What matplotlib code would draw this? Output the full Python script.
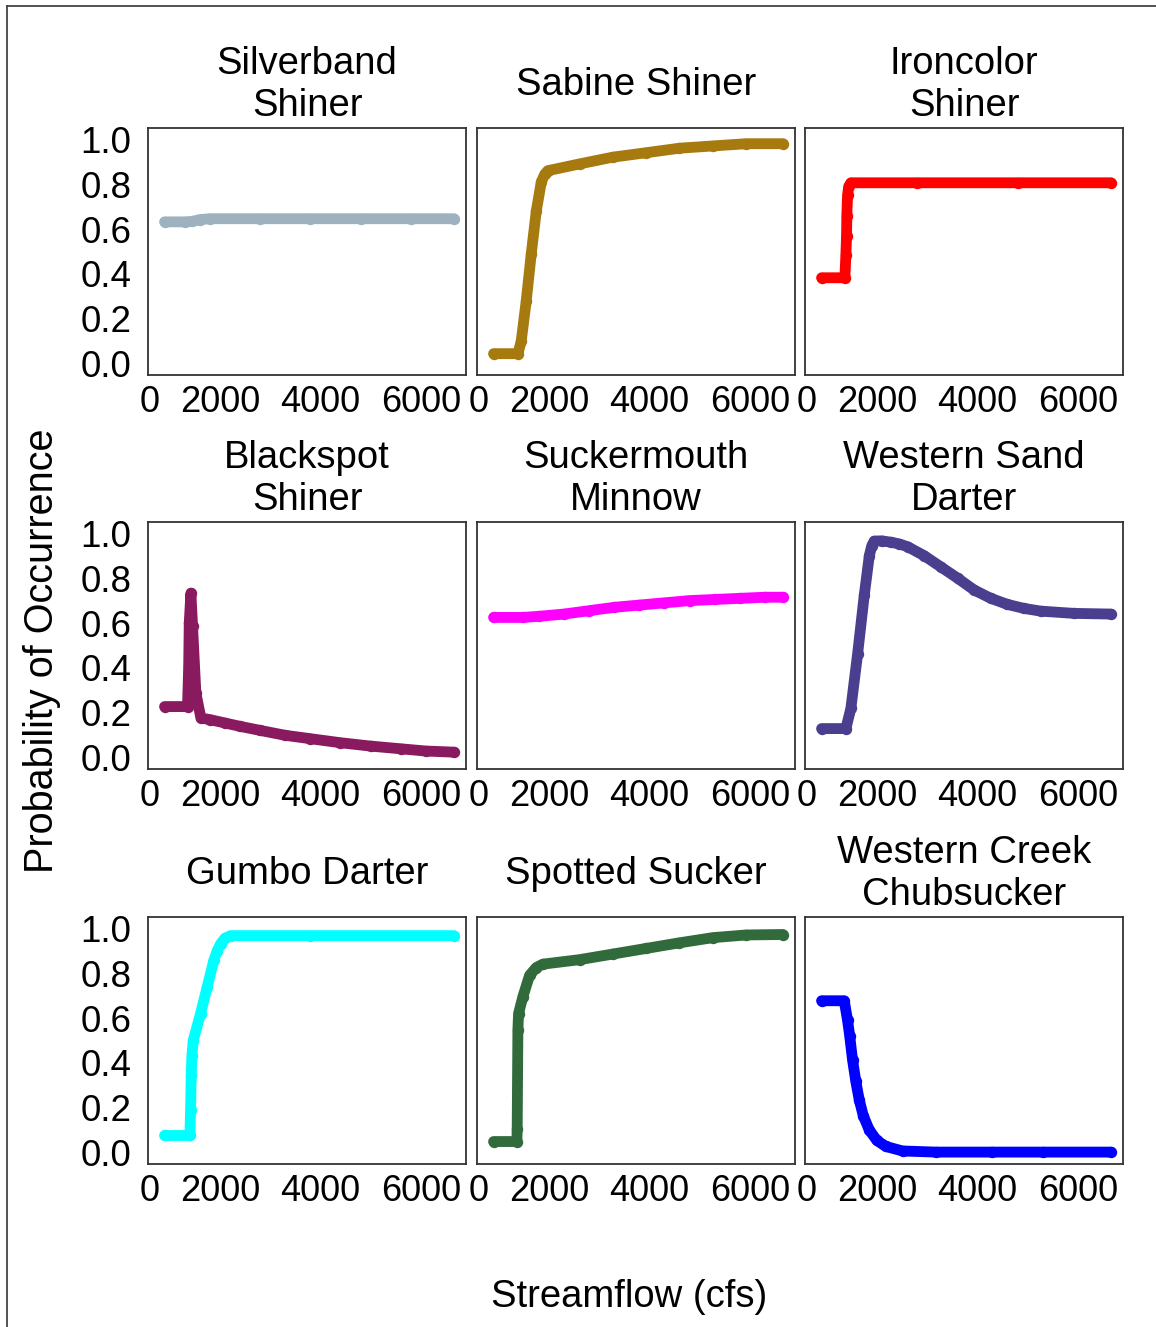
import matplotlib
matplotlib.use('Agg')
import matplotlib.pyplot as plt
from matplotlib.lines import Line2D

plt.rcParams['font.family'] = ['Liberation Sans', 'DejaVu Sans']

W, H = 1156, 1327

titles = ["Silverband\nShiner", "Sabine Shiner", "Ironcolor\nShiner",
          "Blackspot\nShiner", "Suckermouth\nMinnow", "Western Sand\nDarter",
          "Gumbo Darter", "Spotted Sucker", "Western Creek\nChubsucker"]

colors = ["#9db2be", "#a67a0e", "#ff0000",
          "#8a1a5f", "#ff00ff", "#4a3e8e",
          "#00ffff", "#316b3c", "#0000ff"]

# Streamflow (cfs) / probability of occurrence
silverband_x = [100, 500, 650, 800, 1000, 2000, 3000, 4000, 5000, 5860]
silverband_y = [0.632, 0.632, 0.634, 0.642, 0.646, 0.646, 0.646, 0.646, 0.646, 0.646]

sabine_x = [100, 584, 650, 750, 850, 950, 1050, 1120, 1180, 1811, 2470, 3140, 3800, 4460, 5130, 5860]
sabine_y = [0.045, 0.045, 0.10, 0.28, 0.49, 0.68, 0.81, 0.845, 0.86, 0.89, 0.92, 0.94, 0.96, 0.97, 0.98, 0.98]

ironcolor_x = [100, 564, 584, 597, 603, 617, 640, 683, 2000, 4000, 5860]
ironcolor_y = [0.383, 0.383, 0.486, 0.57, 0.66, 0.75, 0.79, 0.806, 0.806, 0.806, 0.806]

blackspot_x = [100, 557, 580, 591, 624, 657, 723, 823, 1000, 1300, 1600, 2000, 2500,
               3000, 3600, 4200, 4800, 5300, 5860]
blackspot_y = [0.228, 0.228, 0.41, 0.60, 0.733, 0.585, 0.288, 0.177, 0.17, 0.155, 0.14,
               0.122, 0.10, 0.085, 0.067, 0.052, 0.04, 0.03, 0.025]

suckermouth_x = [100, 680, 1000, 1500, 2000, 2500, 3000, 3500, 4000, 4500, 5000, 5500, 5860]
suckermouth_y = [0.625, 0.625, 0.63, 0.64, 0.655, 0.67, 0.68, 0.69, 0.70, 0.705, 0.71, 0.715, 0.715]

sanddarter_x = [100, 584, 683, 816, 950, 1050, 1100, 1148, 1300, 1480, 1650, 1811, 2143, 2474,
                2806, 3138, 3469, 3800, 4133, 4464, 5128, 5857]
sanddarter_y = [0.13, 0.13, 0.22, 0.46, 0.725, 0.90, 0.945, 0.965, 0.966, 0.96, 0.952, 0.94,
                0.90, 0.85, 0.80, 0.747, 0.71, 0.683, 0.665, 0.653, 0.643, 0.64]

gumbo_x = [100, 604, 617, 630, 643, 670, 816, 950, 1081, 1150, 1214, 1300, 1413, 3000, 5860]
gumbo_y = [0.077, 0.077, 0.19, 0.34, 0.43, 0.50, 0.62, 0.74, 0.858, 0.90, 0.93, 0.955, 0.967,
           0.967, 0.967]

spotted_x = [100, 564, 570, 584, 597, 683, 816, 950, 1081, 1811, 2474, 3138, 3800, 4464, 5128, 5860]
spotted_y = [0.05, 0.05, 0.108, 0.546, 0.62, 0.695, 0.79, 0.825, 0.84, 0.86, 0.885, 0.91, 0.935,
             0.958, 0.97, 0.972]

chubsucker_x = [100, 551, 617, 660, 716, 780, 849, 930, 1048, 1200, 1380, 1711, 2375, 3500, 4500, 5860]
chubsucker_y = [0.677, 0.677, 0.59, 0.52, 0.414, 0.32, 0.236, 0.165, 0.102, 0.055, 0.028, 0.008,
                0.003, 0.003, 0.003, 0.003]

series = [(silverband_x, silverband_y), (sabine_x, sabine_y), (ironcolor_x, ironcolor_y),
          (blackspot_x, blackspot_y), (suckermouth_x, suckermouth_y), (sanddarter_x, sanddarter_y),
          (gumbo_x, gumbo_y), (spotted_x, spotted_y), (chubsucker_x, chubsucker_y)]

xticks = [0, 2000, 4000, 6000]
xticklabels = ["0", "2000", "4000", "6000"]
yticks = [0.0, 0.2, 0.4, 0.6, 0.8, 1.0]
yticklabels = ["0.0", "0.2", "0.4", "0.6", "0.8", "1.0"]

fig = plt.figure(figsize=(W / 100, H / 100), dpi=100)
fig.patch.set_facecolor('white')

lefts = [148, 477, 805]
tops = [128, 522, 917]
aw, ah = 318, 247

for i in range(9):
    r, c = divmod(i, 3)
    L, T = lefts[c], tops[r]
    ax = fig.add_axes([L / W, 1 - (T + ah) / H, aw / W, ah / H])
    x, y = series[i]
    ax.plot(x, y, '-o', color=colors[i], lw=7.8, ms=8.2, solid_capstyle='round',
            solid_joinstyle='round', markeredgewidth=0)
    ax.set_xlim(-230, 6100)
    ax.set_ylim(-0.05, 1.05)
    ax.set_xticks(xticks)
    ax.set_xticklabels(xticklabels, ha='right')
    ax.tick_params(axis='x', length=0, pad=7, labelsize=26)
    if c == 0:
        ax.set_yticks(yticks)
        ax.set_yticklabels(yticklabels)
        ax.tick_params(axis='y', length=0, pad=12, labelsize=26.5)
    else:
        ax.set_yticks([])
    for s in ax.spines.values():
        s.set_color('#333333')
        s.set_linewidth(1.3)
    ax.text(0.5, 1 + 43 / ah, titles[i], transform=ax.transAxes, ha='center', va='center',
            fontsize=27.5, linespacing=1.2)

fig.text(42 / W, 1 - 651 / H, "Probability of Occurrence", rotation=90,
         ha='center', va='center', fontsize=28.5)
fig.text(629 / W, 1 - 1297 / H, "Streamflow (cfs)", ha='center', va='center', fontsize=27.5)

fig.add_artist(Line2D([7 / W, 7 / W], [0, 1 - 6 / H], transform=fig.transFigure,
                      color='#444444', lw=1.3))
fig.add_artist(Line2D([7 / W, 1], [1 - 6 / H, 1 - 6 / H], transform=fig.transFigure,
                      color='#444444', lw=1.3))

fig.savefig('out.png', dpi=100, facecolor='white')
